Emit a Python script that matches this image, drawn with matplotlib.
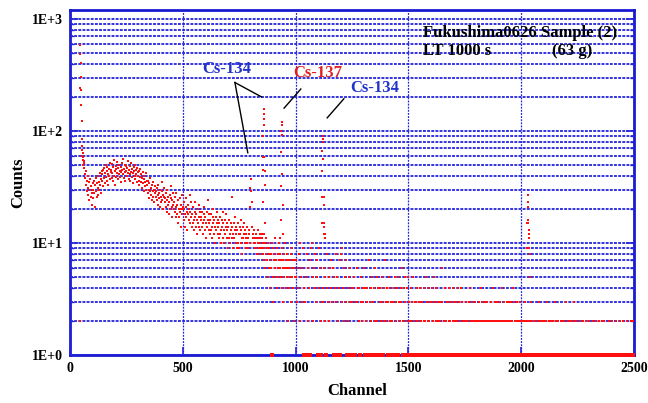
import matplotlib
matplotlib.use("Agg")
import matplotlib.pyplot as plt
from matplotlib.ticker import FixedLocator, NullFormatter, LogLocator

# ---------------- data ----------------
# low-energy edge
edge_channels = [43, 44, 45, 46, 47, 48, 49, 50, 51, 52, 53, 54, 55, 56, 57, 58, 59, 60, 61]
edge_counts = [2, 241, 587, 485, 403, 306, 233, 171, 123, 85, 73, 68, 60, 64, 55, 59, 50, 54, 47]

# continuum, one value every 2 channels starting at channel 62
cont_start = 62
cont_step = 2
cont_062_138 = [52, 47, 41, 38, 44, 33, 36, 29, 40, 31, 27, 35, 24, 30, 37, 26, 32, 22, 28, 34,
                30, 25, 36, 28, 33, 21, 38, 29, 26, 34, 31, 40, 27, 35, 30, 42, 33, 28, 37, 44]
cont_142_218 = [36, 41, 32, 45, 38, 47, 34, 42, 50, 39, 44, 36, 48, 41, 33, 46, 40, 52, 37, 43,
                45, 38, 51, 42, 36, 48, 55, 40, 44, 33, 49, 46, 39, 53, 42, 37, 47, 41, 50, 44]
cont_222_298 = [39, 48, 43, 35, 52, 45, 41, 56, 38, 46, 43, 50, 36, 44, 49, 40, 47, 42, 54, 37,
                45, 41, 49, 36, 43, 52, 39, 46, 42, 34, 48, 44, 40, 50, 37, 45, 41, 47, 35, 43]
cont_302_378 = [40, 36, 44, 33, 39, 46, 35, 41, 31, 38, 43, 34, 37, 29, 40, 35, 32, 42, 30, 36,
                33, 28, 36, 30, 25, 34, 29, 38, 27, 31, 24, 33, 29, 26, 35, 30, 23, 28, 32, 26]
cont_382_458 = [29, 24, 31, 22, 27, 33, 25, 28, 21, 30, 26, 23, 29, 35, 24, 27, 20, 26, 31, 23,
                25, 21, 28, 19, 24, 30, 22, 26, 18, 23, 27, 20, 25, 32, 21, 24, 17, 22, 28, 20]
cont_462_538 = [23, 19, 26, 17, 21, 28, 18, 22, 15, 24, 20, 17, 25, 19, 22, 14, 20, 27, 18, 21,
                20, 16, 23, 18, 14, 21, 25, 17, 19, 13, 22, 18, 16, 20, 27, 15, 19, 17, 23, 14]
cont_542_618 = [18, 15, 21, 16, 13, 19, 17, 23, 14, 18, 16, 12, 20, 15, 17, 22, 14, 19, 13, 16,
                17, 14, 19, 15, 12, 18, 16, 21, 13, 17, 15, 11, 19, 14, 16, 24, 13, 18, 15, 12]
cont_622_698 = [16, 13, 18, 14, 11, 17, 15, 20, 12, 16, 14, 10, 17, 13, 15, 19, 12, 16, 14, 11,
                15, 12, 17, 13, 10, 16, 14, 19, 11, 15, 13, 10, 16, 12, 14, 18, 11, 15, 13, 9]
cont_702_778 = [14, 11, 16, 12, 10, 15, 13, 26, 11, 14, 12, 9, 15, 11, 13, 17, 10, 14, 12, 9,
                13, 10, 15, 12, 9, 14, 12, 16, 10, 13, 11, 8, 14, 11, 12, 15, 10, 13, 11, 9]
cont_782_848 = [12, 10, 14, 11, 9, 13, 12, 10, 21, 31, 37, 29, 23, 14, 11, 12, 10, 13, 9, 11,
                10, 12, 9, 11, 8, 13, 10, 9, 11, 8, 10, 12, 9, 11]
cont_850_928 = [9, 11, 8, 10, 7, 12, 9, 6, 10, 8, 11, 7, 9, 5, 10, 8, 6, 9, 4, 7,
                8, 6, 10, 1, 5, 9, 3, 7, 8, 6, 11, 5, 7, 4, 9, 6, 8, 5, 7, 10]
cont_930_998 = [6, 8, 5, 7, 9, 4, 6, 7, 3, 8, 5, 6, 10, 7, 4, 6, 8, 5, 2, 7,
                6, 4, 7, 5, 8, 3, 6, 9, 5, 7, 4, 6, 2, 5, 7]

# low-count tail, one hex digit (count) every 3 channels starting at channel 1000
tail_start = 1000
tail_step = 3
tail_1000 = "5736482a53" "6941351862" "4719a52648" "3751946213"
tail_1120 = "4362514835" "2647361548" "3521471839" "4625371425" "3614"
tail_1252 = ("3415136342" "4153243614" "2431173425" "3142615241" "4325314273"
             "2413524312" "3145234153" "2436214352" "415")
tail_1501 = ("2314231523" "1324213432" "3124251324" "2131432513" "2413213216"
             "3121423132" "4213124312" "3214132413" "212")
tail_1750 = ("2132123142" "3212132201" "2312423121" "3213212132" "1242312132"
             "2132141232" "1232132123" "2413212312" "132")
tail_1999 = ("1210213121" "2112131211" "2121112312" "1121211213" "1212112121"
             "3121121112" "1211213111" "2112112131" "212")
tail_2248 = ("1111211112" "1112111121" "1112111121" "1112111211" "2111101211"
             "1121111121" "1112011121" "1101211112" "1112")

# photopeaks
cs134_605_channels = [853, 854, 855, 856, 857, 858, 859, 860, 861, 862, 863, 864, 865]
cs134_605_counts = [12, 23, 45, 59, 90, 127, 157, 143, 114, 58, 44, 33, 15]
cs137_662_channels = [933, 934, 935, 936, 937, 938, 939, 940, 941, 942, 943]
cs137_662_counts = [11, 16, 32, 65, 101, 121, 114, 93, 41, 22, 12]
cs134_796_channels = [1116, 1117, 1118, 1119, 1120, 1121, 1122, 1123, 1124, 1125, 1126, 1127, 1128, 1129, 1130]
cs134_796_counts = [15, 26, 44, 66, 84, 90, 80, 56, 26, 14, 12, 15, 22, 12, 11]
k40_channels = [2026, 2027, 2028, 2029, 2030, 2031, 2032, 2033, 2034, 2035, 2036, 2037, 2038]
k40_counts = [9, 15, 27, 23, 21, 16, 15, 13, 12, 11, 9, 8, 5]

x_ticks = [0, 500, 1000, 1500, 2000, 2500]
y_ticks = [1, 10, 100, 1000]
y_tick_labels = ["1E+0", "1E+1", "1E+2", "1E+3"]

# ---------------- assemble ----------------
chs, cts = list(edge_channels), list(edge_counts)
cont = (cont_062_138 + cont_142_218 + cont_222_298 + cont_302_378 + cont_382_458 +
        cont_462_538 + cont_542_618 + cont_622_698 + cont_702_778 + cont_782_848 +
        cont_850_928 + cont_930_998)
for i, v in enumerate(cont):
    chs.append(cont_start + cont_step * i)
    cts.append(v)
tail = tail_1000 + tail_1120 + tail_1252 + tail_1501 + tail_1750 + tail_1999 + tail_2248
for i, c in enumerate(tail):
    v = int(c, 16)
    if v > 0:
        chs.append(tail_start + tail_step * i)
        cts.append(v)
for pc, pv in [(cs134_605_channels, cs134_605_counts), (cs137_662_channels, cs137_662_counts),
               (cs134_796_channels, cs134_796_counts), (k40_channels, k40_counts)]:
    chs += pc
    cts += pv

ones_ch = [c for c, v in zip(chs, cts) if v == 1]
ones_ct = [v for v in cts if v == 1]
rest_ch = [c for c, v in zip(chs, cts) if v != 1]
rest_ct = [v for v in cts if v != 1]

# ---------------- plot ----------------
plt.rcParams["font.family"] = ["Liberation Serif", "DejaVu Serif"]
plt.rcParams["font.weight"] = "bold"

W, H = 648, 403
fig = plt.figure(figsize=(W / 100, H / 100), dpi=100)
ax = fig.add_axes([70 / W, (H - 355) / H, (634 - 70) / W, (355 - 10) / H])

blue = "#2424dc"
ax.set_yscale("log")
ax.set_xlim(0, 2500)
ax.set_ylim(1, 10 ** (3 + 9 / 112))

ax.yaxis.set_major_locator(FixedLocator(y_ticks))
ax.set_yticklabels(y_tick_labels)
ax.yaxis.set_minor_locator(LogLocator(base=10, subs=[2, 3, 4, 5, 6, 7, 8, 9]))
ax.yaxis.set_minor_formatter(NullFormatter())
ax.set_xticks(x_ticks)

ax.grid(True, axis="y", which="both", color=blue, linewidth=1.3,
        linestyle=(0, (1.6, 0.7)), zorder=1)
ax.grid(True, axis="x", which="major", color=blue, linewidth=0.9,
        linestyle=(0, (1.5, 1.0)), zorder=1)
ax.set_axisbelow(True)

for s in ax.spines.values():
    s.set_color("#1a1ad0")
    s.set_linewidth(2)
    s.set_zorder(0.3)

ax.tick_params(axis="both", which="major", direction="in", color=blue, length=6, width=1.2,
               labelsize=10, pad=5)
ax.tick_params(axis="y", which="both", right=True)
ax.tick_params(axis="y", which="minor", direction="in", color=blue, length=3, width=1)
for lab in ax.get_xticklabels() + ax.get_yticklabels():
    lab.set_fontweight("bold")

ax.plot(rest_ch, rest_ct, linestyle="none", marker="s", markersize=1.7, markeredgewidth=0,
        color="#ff1010", zorder=10, clip_on=False)
# counts of 1 sit on the bottom frame line
ax.plot(ones_ch, ones_ct, linestyle="none", marker="s", markersize=2.2, markeredgewidth=0,
        color="#ff1010", zorder=12, clip_on=False)

ax.set_xlabel("Channel", fontsize=12, fontweight="bold")
ax.set_ylabel("Counts", fontsize=12, fontweight="bold")
ax.xaxis.set_label_coords(0.51, -0.082)
ax.yaxis.set_label_coords(-0.078, 0.5)

ax.text(1565, 743, "Fukushima0626 Sample (2)", fontsize=12, fontweight="bold",
        ha="left", va="center", color="black", zorder=4)
ax.text(1565, 514, "LT 1000 s", fontsize=12, fontweight="bold",
        ha="left", va="center", color="black", zorder=4)
ax.text(2135, 514, "(63 g)", fontsize=12, fontweight="bold",
        ha="left", va="center", color="black", zorder=4)

ax.text(584, 359, "Cs-134", fontsize=12, fontweight="bold", color="#2233cc",
        ha="left", va="center", zorder=4)
ax.text(989, 327, "Cs-137", fontsize=12, fontweight="bold", color="#dd2222",
        ha="left", va="center", zorder=4)
ax.text(1241, 241, "Cs-134", fontsize=12, fontweight="bold", color="#2233cc",
        ha="left", va="center", zorder=4)

ax.plot([731, 850], [271, 201], color="black", linewidth=1, zorder=4)
ax.plot([731, 788], [271, 64], color="black", linewidth=1, zorder=4)
ax.plot([1023, 949], [237, 160], color="black", linewidth=1, zorder=4)
ax.plot([1214, 1140], [194, 131], color="black", linewidth=1, zorder=4)

fig.savefig("out.png", dpi=100)
